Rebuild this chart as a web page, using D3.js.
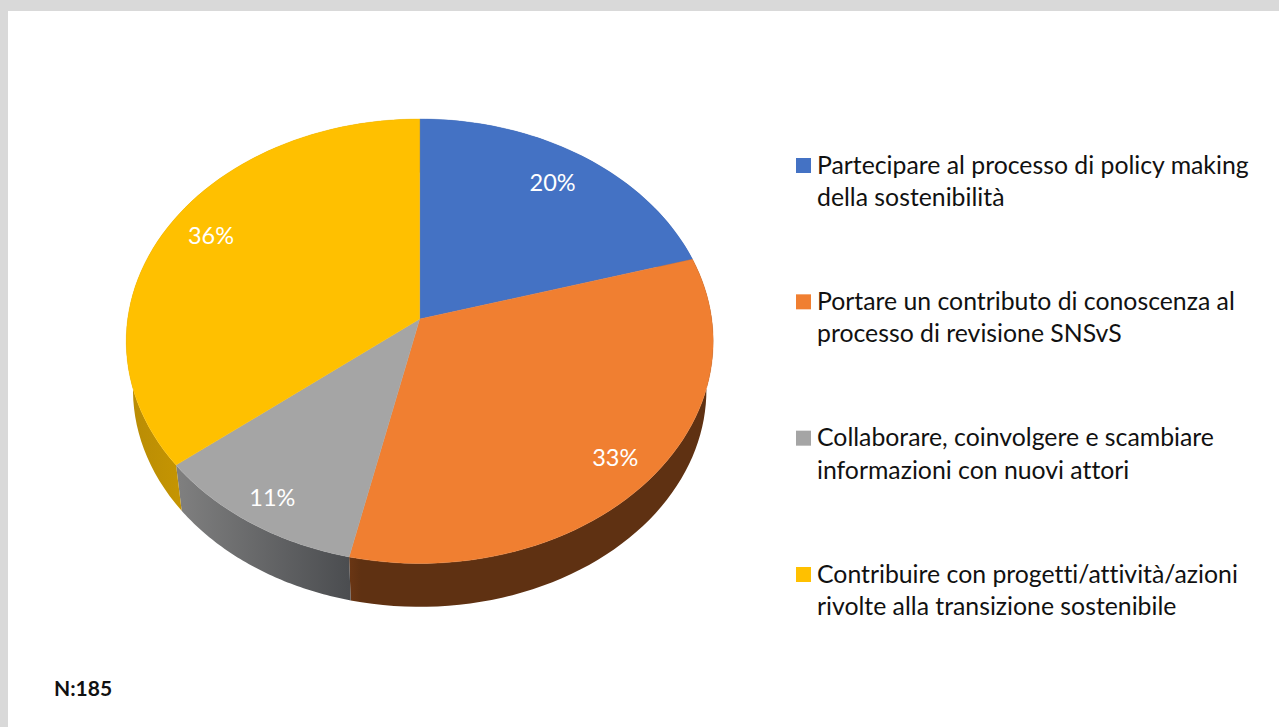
<!DOCTYPE html>
<html>
<head>
<meta charset="utf-8">
<script src="https://cdn.jsdelivr.net/npm/d3@7"></script>
<style>
  body { margin: 0; background: #fff; overflow: hidden; }
  svg { display: block; }
  text { font-family: Lato, Carlito, "Open Sans", sans-serif; font-variant-ligatures: none; }
</style>
</head>
<body>
<script>
// values (slice shares, a bit finer than the printed labels)
const categories = [
  ['Partecipare al processo di policy making', 'della sostenibilità'],
  ['Portare un contributo di conoscenza al', 'processo di revisione SNSvS'],
  ['Collaborare, coinvolgere e scambiare', 'informazioni con nuovi attori'],
  ['Contribuire con progetti/attività/azioni', 'rivolte alla transizione sostenibile']
];
const shares = [20.5, 33.0, 10.8, 35.7];
const valueLabels = ['20%', '33%', '11%', '36%'];
const colors = ['#4472c4', '#f07f31', '#a5a5a5', '#ffc000'];
const note = 'N:185';

const width = 1279, height = 727;

const svg = d3.select('body')
  .append('svg')
    .attr('width', width)
    .attr('height', height);

// grey frame on top and left of the slide
svg.append('rect').attr('width', width).attr('height', height).attr('fill', '#d9d9d9');
svg.append('rect').attr('x', 8).attr('y', 11).attr('width', width - 8).attr('height', height - 11).attr('fill', '#fff');

// pie tilted in perspective: apex is not at the middle of the ellipse
const cx = 419.7, apexY = 319;
const a = 292, b = 220, p = 0.1;

function project(angle, r) {
  const u = Math.sin(angle) * r;
  const v = -Math.cos(angle) * r;
  const w = 1 - p * v;
  return [cx + a * u / w, apexY + b * v / w];
}

// lower rim of the wall, slightly smaller because it is further away
const rimScale = 0.977;
const topMidY = 341, lowMidY = 389.5;
function lower(pt) {
  return [cx + (pt[0] - cx) * rimScale, lowMidY + (pt[1] - topMidY) * rimScale];
}

const pie = d3.pie().sort(null).value(d => d);
const arcs = pie(shares);
const line = d3.line();

function rim(d) {
  return d3.range(0, 61).map(i => project(d.startAngle + (d.endAngle - d.startAngle) * i / 60, 1));
}

const defs = svg.append('defs');
function wallGradient(id, x1, x2, c1, c2) {
  const g = defs.append('linearGradient').attr('id', id)
    .attr('gradientUnits', 'userSpaceOnUse')
    .attr('x1', x1).attr('x2', x2).attr('y1', 0).attr('y2', 0);
  g.append('stop').attr('offset', 0).attr('stop-color', c1);
  g.append('stop').attr('offset', 1).attr('stop-color', c2);
}
wallGradient('wall2', project(arcs[3].startAngle, 1)[0], project(arcs[2].startAngle, 1)[0], '#808080', '#4b4d50');
wallGradient('wall1', project(arcs[2].startAngle, 1)[0], project(arcs[2].startAngle, 1)[0] + 12, '#6a3614', '#5f3112');
wallGradient('wall3', 130, project(arcs[3].startAngle, 1)[0], '#b98c05', '#c49402');
const wallFill = ['#2f5597', 'url(#wall1)', 'url(#wall2)', 'url(#wall3)'];

const chart = svg.append('g');

// walls first, the top face hides whatever is at the back
chart.selectAll('path.wall')
  .data(arcs)
  .enter().append('path')
    .attr('class', 'wall')
    .attr('fill', (d, i) => wallFill[i])
    .attr('d', d => {
      const top = rim(d);
      return line(top.concat(top.map(lower).reverse())) + 'Z';
    });

chart.selectAll('path.top')
  .data(arcs)
  .enter().append('path')
    .attr('class', 'top')
    .attr('fill', (d, i) => colors[i])
    .attr('stroke', (d, i) => colors[i])
    .attr('stroke-width', 0.4)
    .attr('d', d => line([[cx, apexY]].concat(rim(d))) + 'Z');

// labels near the rim, some sit a little off their radius
const labelR = [0.82, 0.86, 0.88, 0.83];
const labelNudge = [[-2, -2], [1, 0], [0, 1], [2, -7]];
chart.selectAll('text.value')
  .data(arcs)
  .enter().append('text')
    .attr('class', 'value')
    .attr('text-anchor', 'middle')
    .attr('dominant-baseline', 'central')
    .attr('fill', '#fff')
    .attr('font-size', 23.5)
    .attr('x', (d, i) => project((d.startAngle + d.endAngle) / 2, labelR[i])[0] + labelNudge[i][0])
    .attr('y', (d, i) => project((d.startAngle + d.endAngle) / 2, labelR[i])[1] + labelNudge[i][1])
    .text((d, i) => valueLabels[i]);

// legend
const legendY = d3.scalePoint().domain(d3.range(categories.length)).range([165, 574]);
const legend = svg.append('g').selectAll('g')
  .data(categories)
  .enter().append('g')
    .attr('transform', (d, i) => 'translate(0,' + legendY(i) + ')');

legend.append('rect')
  .attr('x', 796).attr('y', -7).attr('width', 15).attr('height', 15)
  .attr('fill', (d, i) => colors[i]);

legend.selectAll('text')
  .data(d => d)
  .enter().append('text')
    .attr('x', 817)
    .attr('y', (d, i) => 8.5 + i * 32.5)
    .attr('font-size', 24.8)
    .attr('fill', '#111')
    .text(d => d);

svg.append('text')
  .attr('x', 54).attr('y', 696)
  .attr('font-size', 21)
  .attr('font-weight', 'bold')
  .attr('fill', '#111')
  .text(note);
</script>
</body>
</html>
